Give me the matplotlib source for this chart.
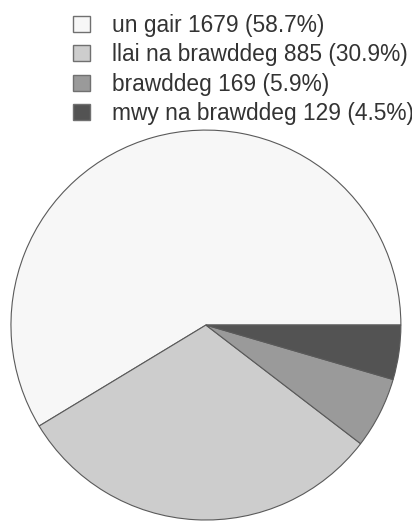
import matplotlib.pyplot as plt
from matplotlib.patches import Patch

labels = ['un gair', 'llai na brawddeg', 'brawddeg', 'mwy na brawddeg']
counts = [1679, 885, 169, 129]
percents = [58.7, 30.9, 5.9, 4.5]
colors = ['#f7f7f7', '#cdcdcd', '#9a9a9a', '#535353']

plt.rcParams['font.family'] = ['Liberation Sans', 'DejaVu Sans']

fig = plt.figure(figsize=(4.12, 5.23), dpi=100)
ax = fig.add_axes([0.0218, 0.002, 0.956, 0.753])
ax.pie(counts, colors=colors, startangle=0, counterclock=True, radius=1,
       wedgeprops=dict(edgecolor='#5a5a5a', linewidth=0.8))
ax.set_xlim(-1.01, 1.01)
ax.set_ylim(-1.01, 1.01)
ax.set_aspect('equal')
ax.axis('off')

# legend at the top, text in dark grey
handles = [Patch(facecolor=c, edgecolor='#707070', linewidth=1.0) for c in colors]
legend_labels = [f'{l} {n} ({p}%)' for l, n, p in zip(labels, counts, percents)]
leg = fig.legend(handles, legend_labels, loc='upper left', bbox_to_anchor=(73 / 412, 1 - 14 / 523),
                 frameon=False, fontsize=16.4, handlelength=0.76, handleheight=0.7,
                 handletextpad=0.95, labelspacing=0.28, borderaxespad=0, borderpad=0)
for t in leg.get_texts():
    t.set_color('#333333')

fig.savefig('out.png', dpi=100)
